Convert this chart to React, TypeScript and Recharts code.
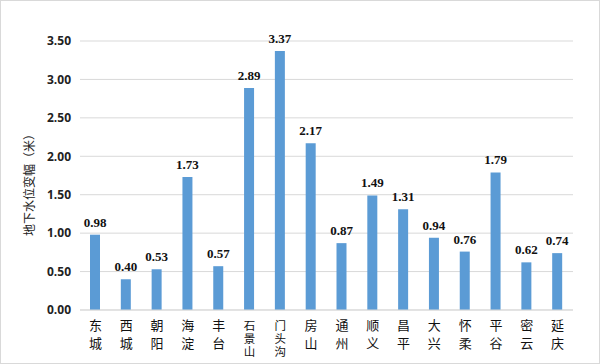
import React from 'react';
import { BarChart, Bar, XAxis, YAxis, CartesianGrid, LabelList } from 'recharts';

const districts = ['东城', '西城', '朝阳', '海淀', '丰台', '石景山', '门头沟', '房山', '通州', '顺义', '昌平', '大兴', '怀柔', '平谷', '密云', '延庆'];
const changes = [0.98, 0.4, 0.53, 1.73, 0.57, 2.89, 3.37, 2.17, 0.87, 1.49, 1.31, 0.94, 0.76, 1.79, 0.62, 0.74];
const yTicks = [0, 0.5, 1, 1.5, 2, 2.5, 3, 3.5];

const data = districts.map((name, i) => ({ name, value: changes[i] }));

const CategoryTick = (props: any) => {
  const { x, y, payload } = props;
  const chars: string[] = Array.from(payload.value as string);
  const long = chars.length > 2;
  const step = long ? 13 : 17.5;
  return (
    <g>
      {chars.map((c, i) => (
        <text
          key={i}
          x={x}
          y={y + (long ? 11.5 : 12) + i * step}
          textAnchor="middle"
          fontSize={long ? 11.5 : 13}
          fill="#111"
          fontFamily="'Noto Sans CJK SC', sans-serif"
        >
          {c}
        </text>
      ))}
    </g>
  );
};

const ValueLabel = (props: any) => {
  const { x, y, width, value } = props;
  return (
    <text
      x={Number(x) + Number(width) / 2}
      y={Number(y) - 8}
      textAnchor="middle"
      fontSize={13}
      fontWeight="bold"
      fill="#111"
      fontFamily="'Liberation Serif', 'Times New Roman', serif"
    >
      {Number(value).toFixed(2)}
    </text>
  );
};

const AxisTitle = () => (
  <text
    x={27}
    y={181}
    transform="rotate(-90 27 181)"
    textAnchor="middle"
    dominantBaseline="central"
    fontSize={12}
    fill="#222"
    fontFamily="'Noto Sans CJK SC', sans-serif"
  >
    地下水位变幅（米）
  </text>
);

export default function App() {
  return (
    <div style={{ width: 600, height: 364, position: 'relative', boxSizing: 'border-box', border: '1px solid #d9d9d9', background: '#fff' }}>
      <style>{'body{margin:0}'}</style>
      <BarChart width={598} height={362} data={data} margin={{ top: 40, right: 26, bottom: 0, left: 0 }}>
        <CartesianGrid vertical={false} stroke="#d9d9d9" />
        <XAxis
          dataKey="name"
          interval={0}
          height={53}
          tickLine={false}
          axisLine={{ stroke: '#d9d9d9' }}
          tick={<CategoryTick />}
        />
        <YAxis
          width={79}
          domain={[0, 3.5]}
          ticks={yTicks}
          tickFormatter={(v: number) => v.toFixed(2)}
          tickLine={false}
          axisLine={false}
          tickSize={0}
          tickMargin={9}
          tick={{ fontSize: 12, fontWeight: 'bold', fill: '#222', fontFamily: "'Open Sans', sans-serif" }}
        />
        <Bar dataKey="value" fill="#5b9bd5" barSize={10} isAnimationActive={false}>
          <LabelList dataKey="value" content={<ValueLabel />} />
        </Bar>
        <AxisTitle />
      </BarChart>
    </div>
  );
}
